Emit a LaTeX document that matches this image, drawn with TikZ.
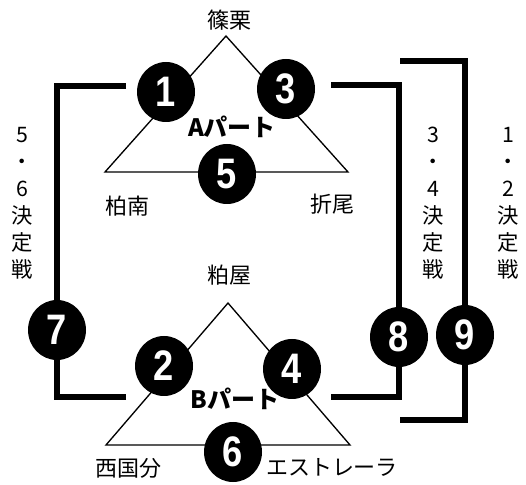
\documentclass[tikz,border=0pt]{standalone}
\usepackage{fontspec}
\usepackage{graphicx}
\setmainfont{Noto Sans CJK JP}
\newfontfamily\numfont{Liberation Sans}
\usetikzlibrary{shapes.geometric}
\newcommand{\nd}[1]{\scalebox{0.85}[1]{#1}}
\tikzset{
  num/.style={ellipse, fill=black, minimum width=43.5pt, minimum height=45pt, inner sep=0pt,
    text=white, font=\numfont\fontsize{32}{32}\selectfont\bfseries},
  lbl/.style={font=\fontsize{16.5}{16.5}\selectfont, inner sep=0pt},
  part/.style={font=\fontsize{18}{18}\selectfont\bfseries, inner sep=0pt},
  vlbl/.style={font=\fontsize{16}{20.25}\selectfont, align=center, inner sep=0pt},
  tri/.style={line width=1pt, line join=miter},
  brk/.style={line width=3.8pt, line join=miter}
}
\begin{document}
\begin{tikzpicture}[x=0.75pt,y=-0.75pt]
\useasboundingbox (0,0) rectangle (526,485);
% triangle A
\coordinate (aT) at (226,36);
\coordinate (aL) at (105,172);
\coordinate (aR) at (348,172);
\draw[tri] (aT) -- (aL) -- (aR) -- cycle;
% triangle B
\coordinate (bT) at (228,303);
\coordinate (bL) at (106,445);
\coordinate (bR) at (350,445);
\draw[tri] (bT) -- (bL) -- (bR) -- cycle;
% circles
\node[num] (n1) at (166,92) {\nd{1}};
\node[num] (n3) at (286,89) {\nd{3}};
\node[num] (n5) at (227,174) {\nd{5}};
\node[num] (n2) at (164,366) {\nd{2}};
\node[num] (n4) at (292,369) {\nd{4}};
\node[num] (n6) at (233,452) {\nd{6}};
\node[num] (n7) at (57,330) {\nd{7}};
\node[num] (n8) at (399,337) {\nd{8}};
\node[num] (n9) at (465,335) {\nd{9}};
% brackets
\coordinate (l1) at (126,86);
\coordinate (l2) at (126,397);
\coordinate (r1) at (331,85);
\coordinate (r2) at (331,397);
\coordinate (s1) at (400,61);
\coordinate (s2) at (400,420);
\draw[brk] (l1) -| (n7);
\draw[brk] (l2) -| (n7);
\draw[brk] (r1) -| (n8);
\draw[brk] (r2) -| (n8);
\draw[brk] (s1) -| (n9);
\draw[brk] (s2) -| (n9);
% labels
\node[lbl] (t1) at (229,20) {篠栗};
\node[lbl] (t2) at (127,206) {柏南};
\node[lbl] (t3) at (332,204) {折尾};
\node[lbl] (t4) at (229,275) {粕屋};
\node[lbl] (t5) at (128,468) {西国分};
\node[lbl] (t6) at (332,467) {エストレーラ};
\node[part] (pa) at (232,127) {Aパート};
\node[part] (pb) at (235,399) {Bパート};
\node[vlbl] (v1) at (22,203) {5\\・\\6\\決\\定\\戦};
\node[vlbl] (v2) at (433,203) {3\\・\\4\\決\\定\\戦};
\node[vlbl] (v3) at (508,203) {1\\・\\2\\決\\定\\戦};
\end{tikzpicture}
\end{document}
